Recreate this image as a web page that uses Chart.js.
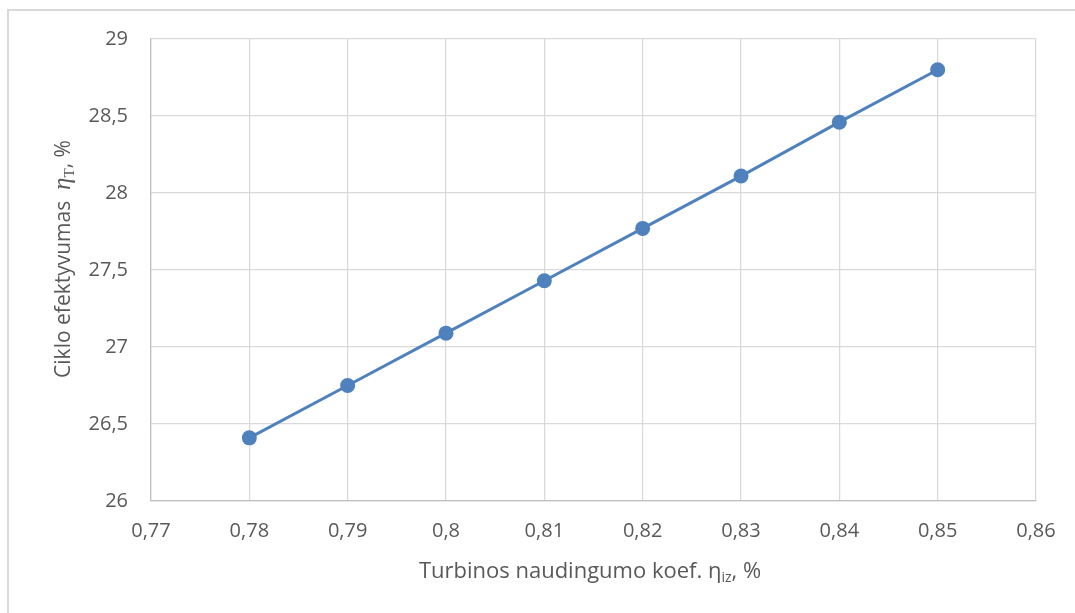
<!DOCTYPE html>
<html>
<head>
<meta charset="utf-8">
<script src="https://cdn.jsdelivr.net/npm/chart.js@4/dist/chart.umd.min.js"></script>
<style>
  html, body { margin: 0; padding: 0; background: #ffffff; }
  #wrap { width: 1075px; height: 613px; position: relative; }
</style>
</head>
<body>
<div id="wrap"><canvas id="c" width="1075" height="613"></canvas></div>
<script>
// Turbine isentropic efficiency vs. cycle efficiency
const turbineEff = [0.78, 0.79, 0.80, 0.81, 0.82, 0.83, 0.84, 0.85];
const cycleEff = [26.41, 26.75, 27.09, 27.43, 27.77, 28.11, 28.46, 28.80];
const xTicks = [0.77, 0.78, 0.79, 0.80, 0.81, 0.82, 0.83, 0.84, 0.85, 0.86];
const yTicks = [26, 26.5, 27, 27.5, 28, 28.5, 29];

const TEXT = '#595959';
const SANS = '"Open Sans", "Liberation Sans", sans-serif';
const SERIF = '"Liberation Serif", "DejaVu Serif", serif';

const fmt = v => String(parseFloat(v.toFixed(2))).replace('.', ',');

// Outer frame along the top and left edges
const framePlugin = {
  id: 'frame',
  beforeDraw(chart) {
    const ctx = chart.ctx;
    ctx.save();
    ctx.fillStyle = '#d9d9d9';
    ctx.fillRect(7, 9, 2, chart.height - 9);
    ctx.fillRect(7, 9, chart.width - 7, 2);
    ctx.restore();
  }
};

function measureRun(ctx, parts) {
  let total = 0;
  parts.forEach(p => {
    ctx.font = p.f;
    p.w = ctx.measureText(p.t).width;
    total += p.w;
  });
  return total;
}

// Axis titles with Greek symbols and subscripts
const titlesPlugin = {
  id: 'axisTitles',
  afterDraw(chart) {
    const ctx = chart.ctx;
    ctx.save();
    ctx.fillStyle = TEXT;
    ctx.textBaseline = 'alphabetic';
    ctx.textAlign = 'left';

    // X title: "Turbinos naudingumo koef. η_iz, %"
    const xParts = [
      { t: 'Turbinos naudingumo koef. η', f: '22px ' + SANS, dy: 0 },
      { t: 'iz', f: '14px ' + SANS, dy: 4 },
      { t: ', %', f: '22px ' + SANS, dy: 0 }
    ];
    let total = measureRun(ctx, xParts);
    let x = 590 - total / 2;
    xParts.forEach(p => {
      ctx.font = p.f;
      ctx.fillText(p.t, x, 578 + p.dy);
      x += p.w;
    });

    // Y title: "Ciklo efektyvumas  η_T, %" rotated
    const yParts = [
      { t: 'Ciklo efektyvumas  ', f: '21px ' + SANS, dy: 0 },
      { t: 'η', f: 'italic 25px ' + SERIF, dy: 0 },
      { t: 'T', f: '15px ' + SERIF, dy: 4 },
      { t: ', %', f: '21px ' + SANS, dy: 0 }
    ];
    total = measureRun(ctx, yParts);
    ctx.translate(70, 259);
    ctx.rotate(-Math.PI / 2);
    let s = -total / 2;
    yParts.forEach(p => {
      ctx.font = p.f;
      ctx.fillText(p.t, s, p.dy);
      s += p.w;
    });
    ctx.restore();
  }
};

new Chart(document.getElementById('c'), {
  type: 'scatter',
  data: {
    datasets: [{
      data: turbineEff.map((v, i) => ({ x: v, y: cycleEff[i] })),
      showLine: true,
      borderColor: '#4f81bd',
      backgroundColor: '#4f81bd',
      borderWidth: 3,
      pointRadius: 7.5,
      pointHoverRadius: 7.5,
      pointBorderWidth: 0
    }]
  },
  options: {
    responsive: false,
    animation: false,
    devicePixelRatio: 1,
    layout: { padding: { left: 0, right: 39, top: 39, bottom: 0 } },
    plugins: { legend: { display: false }, tooltip: { enabled: false } },
    scales: {
      x: {
        type: 'linear',
        min: 0.77,
        max: 0.86,
        afterBuildTicks: s => { s.ticks = xTicks.map(v => ({ value: v })); },
        afterFit: s => { s.height = 112; },
        grid: { color: '#d9d9d9', lineWidth: 1.25, drawTicks: false },
        border: { color: '#bfbfbf', width: 1.25 },
        ticks: {
          color: TEXT,
          font: { family: SANS, size: 20 },
          padding: 18,
          maxRotation: 0,
          autoSkip: false,
          callback: v => fmt(v)
        }
      },
      y: {
        type: 'linear',
        min: 26,
        max: 29,
        afterBuildTicks: s => { s.ticks = yTicks.map(v => ({ value: v })); },
        afterFit: s => { s.width = 151; },
        grid: { color: '#d9d9d9', lineWidth: 1.25, drawTicks: false },
        border: { color: '#bfbfbf', width: 1.25 },
        ticks: {
          color: TEXT,
          font: { family: SANS, size: 20 },
          padding: 23,
          autoSkip: false,
          callback: v => fmt(v)
        }
      }
    }
  },
  plugins: [framePlugin, titlesPlugin]
});
</script>
</body>
</html>
